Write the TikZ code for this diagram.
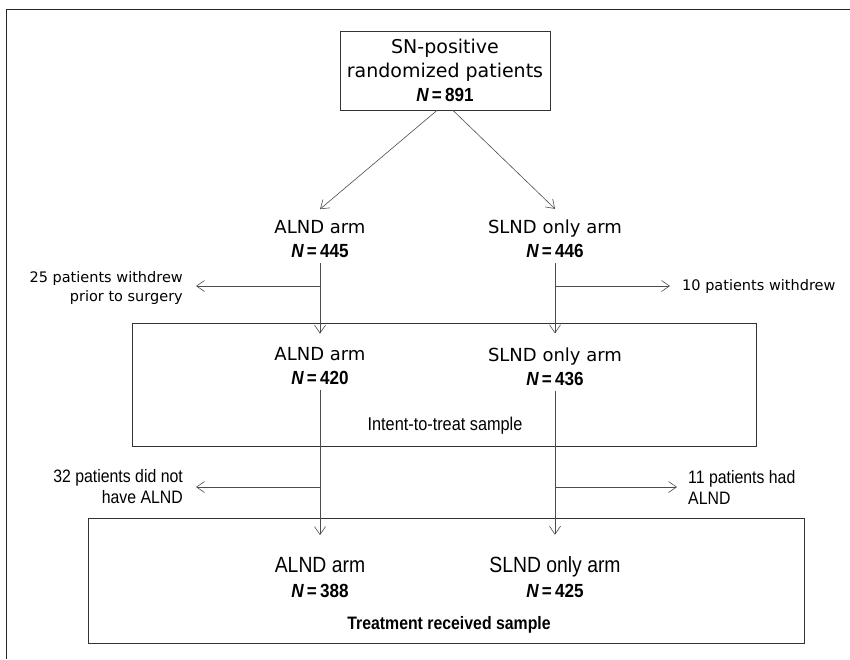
\documentclass[tikz,border=0pt]{standalone}
\usepackage{fontspec}
\setmainfont{DejaVu Sans}
\newfontfamily\nfont{Liberation Sans}[FakeStretch=0.9]
\newfontfamily\condfont{Liberation Sans}[FakeStretch=0.88]
\usetikzlibrary{arrows.meta}
\newcommand{\nval}[1]{{\nfont\bfseries\fontsize{19}{24}\selectfont\itshape N\,\upshape=\,#1}}

\begin{document}
\begin{tikzpicture}[x=1pt, y=-1pt,
    >={Straight Barb[length=8pt,width=11pt]},
    flow/.style={->, draw=black!70, line width=0.6pt},
    frame/.style={draw=black!80, line width=0.8pt},
    arm/.style={inner sep=0pt, align=center, font=\fontsize{18}{24}\selectfont},
    armcond/.style={inner sep=0pt, align=center, font=\condfont\fontsize{22}{25}\selectfont},
    note/.style={inner sep=0pt, font=\fontsize{14.5}{19}\selectfont},
    notecond/.style={inner sep=0pt, font=\condfont\fontsize{18}{21}\selectfont}]
    \useasboundingbox (0,0) rectangle (850,659);

    % outer frame
    \draw[draw=black!85, line width=0.8pt] (850,9) -- (6,9) -- (6,659);

    % randomized patients
    \node[frame, minimum width=210pt, minimum height=79pt, align=center, font=\fontsize{19}{24}\selectfont] (root) at (445,70.5) {SN-positive\\randomized patients\\\nval{891}};

    % randomization arms
    \node[arm] (alnd1) at (320,239) {ALND arm\\\nval{445}};
    \node[arm] (slnd1) at (555,239) {SLND only arm\\\nval{446}};
    \draw[flow] ([xshift=-8pt]root.south) -- ([yshift=11pt]alnd1.north);
    \draw[flow] ([xshift=8pt]root.south) -- ([yshift=11pt]slnd1.north);

    % intent-to-treat sample
    \node[frame, minimum width=624pt, minimum height=123pt] (ittbox) at (444,384.5) {};
    \node[arm] (alnd2) at (320,366.5) {ALND arm\\\nval{420}};
    \node[arm] (slnd2) at (555,366.5) {SLND only arm\\\nval{436}};
    \node[inner sep=0pt, font=\condfont\fontsize{18.5}{21}\selectfont] (itt) at (445,426) {Intent-to-treat sample};
    \draw[flow, shorten <=5pt, shorten >=14pt] (alnd1.south) -- (alnd2.north);
    \draw[flow, shorten <=5pt, shorten >=14pt] (slnd1.south) -- (slnd2.north);

    % withdrawals
    \coordinate (wa) at (320,286);
    \coordinate (wb) at (555,286);
    \node[note, align=right, anchor=east] (wd25) at (183,288) {25 patients withdrew\\prior to surgery};
    \node[note, anchor=west] (wd10) at (682,286) {10 patients withdrew};
    \draw[flow, shorten >=13pt] (wa) -- (wa -| wd25.east);
    \draw[flow, shorten >=12pt] (wb) -- (wb -| wd10.west);

    % treatment received sample
    \node[frame, minimum width=716pt, minimum height=125pt] (trsbox) at (446,580.5) {};
    \node[armcond] (alnd3) at (320,577.5) {ALND arm\\\nval{388}};
    \node[armcond] (slnd3) at (555,577.5) {SLND only arm\\\nval{425}};
    \node[inner sep=0pt, font=\condfont\bfseries\fontsize{18}{21}\selectfont] (trs) at (449,625) {Treatment received sample};
    \draw[flow, shorten <=5pt, shorten >=22pt] (alnd2.south) -- (alnd3.north);
    \draw[flow, shorten <=5pt, shorten >=22pt] (slnd2.south) -- (slnd3.north);

    % crossovers
    \coordinate (wc) at (320,487);
    \coordinate (wd) at (555,487);
    \node[notecond, align=right, anchor=east] (nx32) at (183,487) {32 patients did not\\have ALND};
    \node[notecond, align=left, anchor=west] (nx11) at (688,487) {11 patients had\\ALND};
    \draw[flow, shorten >=13pt] (wc) -- (wc -| nx32.east);
    \draw[flow, shorten >=11pt] (wd) -- (wd -| nx11.west);
\end{tikzpicture}
\end{document}
